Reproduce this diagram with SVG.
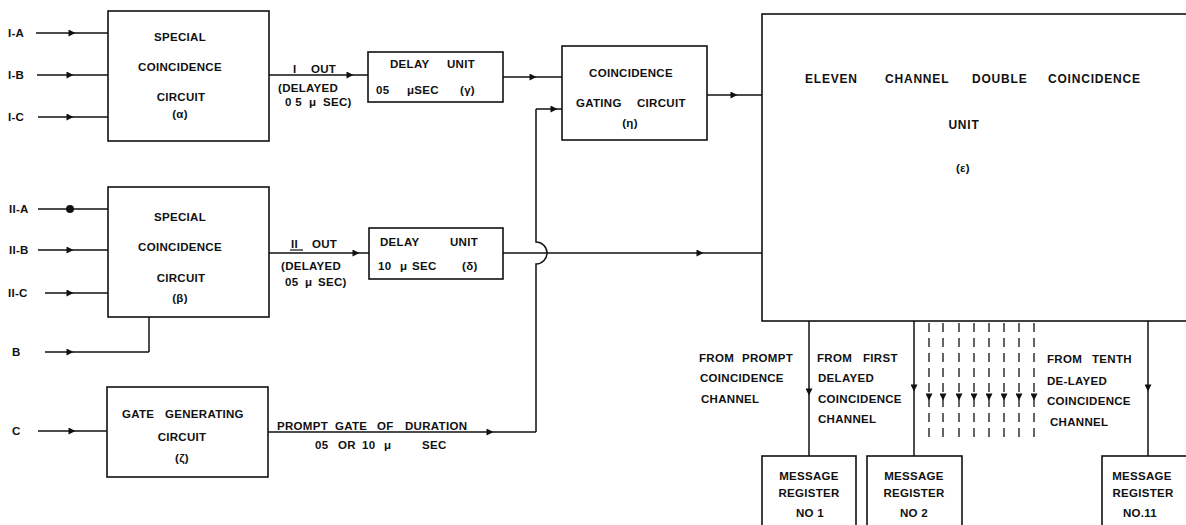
<svg xmlns="http://www.w3.org/2000/svg" width="1186" height="525" viewBox="0 0 1186 525">
<style>
.t{font-family:"Liberation Sans",Arial,sans-serif;font-weight:bold;font-size:11.5px;letter-spacing:0.3px;fill:#111}
.c{text-anchor:middle}
.big{font-size:12px;letter-spacing:0.8px}
.box{fill:#fff;stroke:#111;stroke-width:1.6}
.ln{fill:none;stroke:#111;stroke-width:1.5}
.arr{marker-mid:url(#ah)}
.dsh{fill:none;stroke:#111;stroke-width:1.3;stroke-dasharray:9 6;marker-mid:url(#ah)}
</style>
<defs>
<marker id="ah" viewBox="0 0 10 10" refX="5" refY="5" markerWidth="10" markerHeight="7" markerUnits="userSpaceOnUse" orient="auto"><path d="M0,0 L10,5 L0,10 z" fill="#111"/></marker>
<marker id="dot" viewBox="0 0 10 10" refX="5" refY="5" markerWidth="8" markerHeight="8" markerUnits="userSpaceOnUse"><circle cx="5" cy="5" r="5" fill="#111"/></marker>
</defs>
<rect width="1186" height="525" fill="#fff"/>

<g id="connectors">
<path class="ln arr" d="M36,33 L72,33 L108,33"/>
<path class="ln arr" d="M37,75 L70,75 L108,75"/>
<path class="ln arr" d="M38,117 L70,117 L108,117"/>
<path class="ln" style="marker-mid:url(#dot)" d="M38,209 L70,209 L108,209"/>
<path class="ln arr" d="M38,250 L70,250 L108,250"/>
<path class="ln arr" d="M45,293 L70,293 L108,293"/>
<path class="ln arr" d="M45,352 L70,352 L149,352"/>
<path class="ln" d="M149,352 L149,317"/>
<path class="ln arr" d="M38,431 L72,431 L107,431"/>
<path class="ln arr" d="M269,75 L350,75 L368,75"/>
<path class="ln arr" d="M503,77 L533,77 L562,77"/>
<path class="ln arr" d="M269,253 L356,253 L369,253"/>
<path class="ln arr" d="M503,253 L700,253 L762,253"/>
<path class="ln arr" d="M268,432 L490,432 L536,432"/>
<path class="ln" d="M536,432 L536,264 A11,11 0 0 0 536,242 L536,109"/>
<path class="ln arr" d="M536,109 L554,109 L562,109"/>
<path class="ln arr" d="M707,95 L734,95 L762,95"/>
<path class="ln arr" d="M809,321 L809,392 L809,456"/>
<path class="ln arr" d="M914,321 L914,388 L914,456"/>
<path class="ln arr" d="M1148,321 L1148,388 L1148,456"/>
<path class="dsh" d="M929,323 L929,397 L929,441"/>
<path class="dsh" d="M943,323 L943,397 L943,441"/>
<path class="dsh" d="M959,323 L959,397 L959,441"/>
<path class="dsh" d="M974,323 L974,397 L974,441"/>
<path class="dsh" d="M989,323 L989,397 L989,441"/>
<path class="dsh" d="M1004,323 L1004,397 L1004,441"/>
<path class="dsh" d="M1019,323 L1019,397 L1019,441"/>
<path class="dsh" d="M1034,323 L1034,397 L1034,441"/>
</g>

<g id="input-labels">
<text class="t" x="8" y="37">I-A</text>
<text class="t" x="8" y="79">I-B</text>
<text class="t" x="8" y="121">I-C</text>
<text class="t" x="9" y="213">II-A</text>
<text class="t" x="9" y="254">II-B</text>
<text class="t" x="8" y="297">II-C</text>
<text class="t" x="12" y="356">B</text>
<text class="t" x="12" y="435">C</text>
</g>

<g id="connector-labels">
<text class="t" x="293" y="73">I</text>
<text class="t" x="311" y="73">OUT</text>
<text class="t" x="278" y="92">(DELAYED</text>
<text class="t" x="285" y="106">0 5</text>
<text class="t" x="309" y="106">μ</text>
<text class="t" x="323" y="106">SEC)</text>
<text class="t" x="291" y="248">II</text>
<line x1="290" y1="250" x2="303" y2="250" stroke="#111" stroke-width="1.2"/>
<text class="t" x="312" y="248">OUT</text>
<text class="t" x="281" y="270">(DELAYED</text>
<text class="t" x="285" y="286">05</text>
<text class="t" x="305" y="286">μ</text>
<text class="t" x="318" y="286">SEC)</text>
<text class="t" x="277" y="430">PROMPT</text>
<text class="t" x="335" y="430">GATE</text>
<text class="t" x="377" y="430">OF</text>
<text class="t" x="405" y="430">DURATION</text>
<text class="t" x="315" y="449">05</text>
<text class="t" x="338" y="449">OR</text>
<text class="t" x="362" y="449">10</text>
<text class="t" x="384" y="449">μ</text>
<text class="t" x="422" y="449">SEC</text>
<text class="t" x="699" y="362">FROM</text>
<text class="t" x="742" y="362">PROMPT</text>
<text class="t" x="700" y="382">COINCIDENCE</text>
<text class="t" x="701" y="403">CHANNEL</text>
<text class="t" x="817" y="362">FROM</text>
<text class="t" x="863" y="362">FIRST</text>
<text class="t" x="818" y="382">DELAYED</text>
<text class="t" x="818" y="403">COINCIDENCE</text>
<text class="t" x="818" y="423">CHANNEL</text>
<text class="t" x="1047" y="363">FROM</text>
<text class="t" x="1092" y="363">TENTH</text>
<text class="t" x="1047" y="385">DE-LAYED</text>
<text class="t" x="1047" y="405">COINCIDENCE</text>
<text class="t" x="1050" y="426">CHANNEL</text>
</g>

<g id="node-alpha">
<rect class="box" x="108" y="11" width="161" height="130"/>
<text class="t c" x="180" y="41">SPECIAL</text>
<text class="t c" x="180" y="71">COINCIDENCE</text>
<text class="t c" x="181" y="101">CIRCUIT</text>
<text class="t c" x="180" y="118">(α)</text>
</g>

<g id="node-beta">
<rect class="box" x="108" y="187" width="161" height="130"/>
<text class="t c" x="180" y="221">SPECIAL</text>
<text class="t c" x="180" y="251">COINCIDENCE</text>
<text class="t c" x="181" y="282">CIRCUIT</text>
<text class="t c" x="180" y="302">(β)</text>
</g>

<g id="node-zeta">
<rect class="box" x="107" y="387" width="161" height="90"/>
<text class="t" x="122" y="418">GATE</text>
<text class="t" x="165" y="418">GENERATING</text>
<text class="t c" x="182" y="441">CIRCUIT</text>
<text class="t c" x="182" y="462">(ζ)</text>
</g>

<g id="node-gamma">
<rect class="box" x="368" y="52" width="135" height="50"/>
<text class="t" x="390" y="68">DELAY</text>
<text class="t" x="447" y="68">UNIT</text>
<text class="t" x="376" y="94">05</text>
<text class="t" x="407" y="94">μSEC</text>
<text class="t" x="460" y="94">(γ)</text>
</g>

<g id="node-delta">
<rect class="box" x="369" y="228" width="134" height="51"/>
<text class="t" x="380" y="246">DELAY</text>
<text class="t" x="450" y="246">UNIT</text>
<text class="t" x="378" y="270">10</text>
<text class="t" x="400" y="270">μ</text>
<text class="t" x="412" y="270">SEC</text>
<text class="t" x="462" y="270">(δ)</text>
</g>

<g id="node-eta">
<rect class="box" x="562" y="46" width="145" height="94"/>
<text class="t c" x="631" y="77">COINCIDENCE</text>
<text class="t" x="576" y="107">GATING</text>
<text class="t" x="637" y="107">CIRCUIT</text>
<text class="t c" x="630" y="127">(η)</text>
</g>

<g id="node-epsilon">
<rect class="box" x="762" y="14" width="440" height="307"/>
<text class="t big" x="805" y="83">ELEVEN</text>
<text class="t big" x="885" y="83">CHANNEL</text>
<text class="t big" x="972" y="83">DOUBLE</text>
<text class="t big" x="1048" y="83">COINCIDENCE</text>
<text class="t big c" x="964" y="129">UNIT</text>
<text class="t c" x="963" y="172">(ε)</text>
</g>

<g id="node-mr1">
<rect class="box" x="762" y="456" width="94" height="90"/>
<text class="t c" x="809" y="480">MESSAGE</text>
<text class="t c" x="809" y="497">REGISTER</text>
<text class="t c" x="810" y="517">NO 1</text>
</g>

<g id="node-mr2">
<rect class="box" x="867" y="456" width="95" height="90"/>
<text class="t c" x="914" y="480">MESSAGE</text>
<text class="t c" x="914" y="497">REGISTER</text>
<text class="t c" x="914" y="517">NO 2</text>
</g>

<g id="node-mr11">
<rect class="box" x="1102" y="456" width="100" height="90"/>
<text class="t c" x="1142" y="480">MESSAGE</text>
<text class="t c" x="1143" y="497">REGISTER</text>
<text class="t c" x="1140" y="517">NO.11</text>
</g>
</svg>
